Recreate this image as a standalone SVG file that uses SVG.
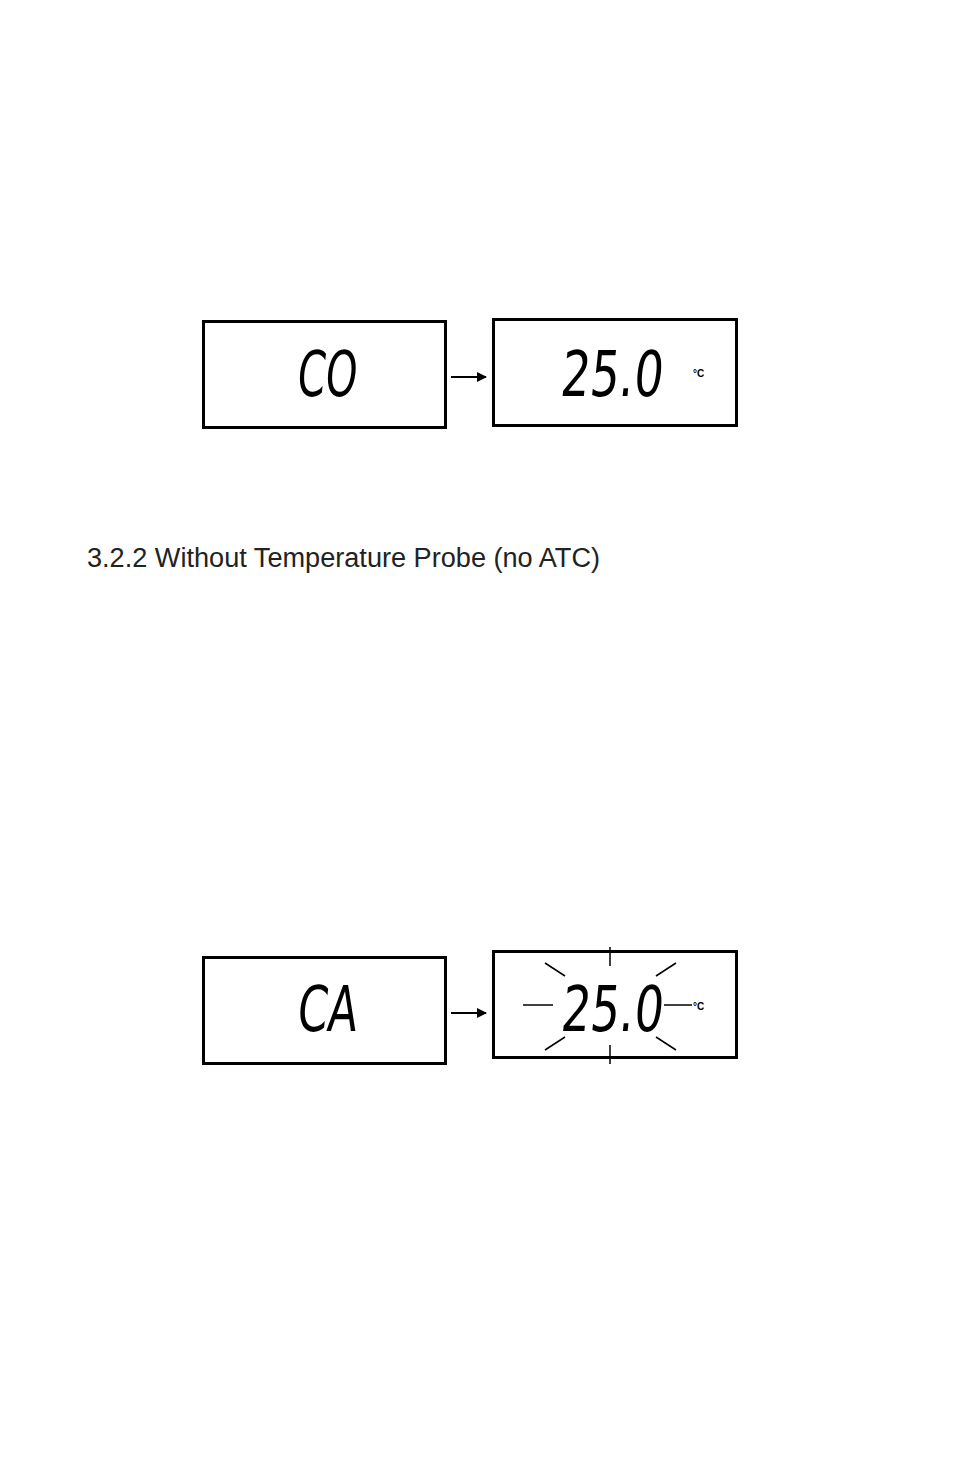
<svg xmlns="http://www.w3.org/2000/svg" width="954" height="1475" viewBox="0 0 954 1475">
<style>
.box{fill:none;stroke:#000;stroke-width:3}
.seg{font-family:"DejaVu Sans Condensed","DejaVu Sans",sans-serif;font-size:63px;fill:#000}
.deg{font-family:"Liberation Sans",Arial,sans-serif;font-size:10px;font-weight:bold;fill:#000}
.con{stroke:#000;stroke-width:2;fill:none}
.blink{stroke:#000;stroke-width:1.5;fill:none}
.head{font-family:"Liberation Sans",Arial,sans-serif;font-size:27px;fill:#222}
</style>
<defs>
<marker id="ah" markerWidth="10" markerHeight="10" refX="9" refY="5" orient="auto" markerUnits="userSpaceOnUse">
<path d="M0,0 L10,5 L0,10 z" fill="#000"/>
</marker>
</defs>
<rect width="954" height="1475" fill="#fff"/>
<g id="display-co">
<rect class="box" x="203.5" y="321.5" width="242" height="106"/>
<text class="seg" x="296" y="396" textLength="60" lengthAdjust="spacingAndGlyphs" transform="skewX(-6) translate(41 0)">CO</text>
</g>
<g id="display-temp1">
<rect class="box" x="493.5" y="319.5" width="243" height="106"/>
<text class="seg" x="560" y="396" textLength="102" lengthAdjust="spacingAndGlyphs" transform="skewX(-6) translate(41 0)">25.0</text>
<text class="deg" x="693" y="377">°C</text>
</g>
<text class="head" x="87" y="567" textLength="513" lengthAdjust="spacingAndGlyphs">3.2.2 Without Temperature Probe (no ATC)</text>
<g id="display-ca">
<rect class="box" x="203.5" y="957.5" width="242" height="106"/>
<text class="seg" x="296" y="1031" textLength="60" lengthAdjust="spacingAndGlyphs" transform="skewX(-6) translate(108 0)">CA</text>
</g>
<g id="display-temp2">
<rect class="box" x="493.5" y="951.5" width="243" height="106"/>
<text class="seg" x="560" y="1031" textLength="102" lengthAdjust="spacingAndGlyphs" transform="skewX(-6) translate(108 0)">25.0</text>
<text class="deg" x="693" y="1010">°C</text>
<line class="blink" x1="610" y1="947" x2="610" y2="966"/>
<line class="blink" x1="610" y1="1045" x2="610" y2="1064"/>
<line class="blink" x1="523" y1="1005" x2="553" y2="1005"/>
<line class="blink" x1="664" y1="1005" x2="692" y2="1005"/>
<line class="blink" x1="545" y1="963" x2="565" y2="976"/>
<line class="blink" x1="656" y1="976" x2="676" y2="963"/>
<line class="blink" x1="545" y1="1050" x2="565" y2="1037"/>
<line class="blink" x1="656" y1="1037" x2="676" y2="1050"/>
</g>
<g id="connectors">
<line class="con" x1="451" y1="377" x2="486" y2="377" marker-end="url(#ah)"/>
<line class="con" x1="451" y1="1013" x2="486" y2="1013" marker-end="url(#ah)"/>
</g>
</svg>
